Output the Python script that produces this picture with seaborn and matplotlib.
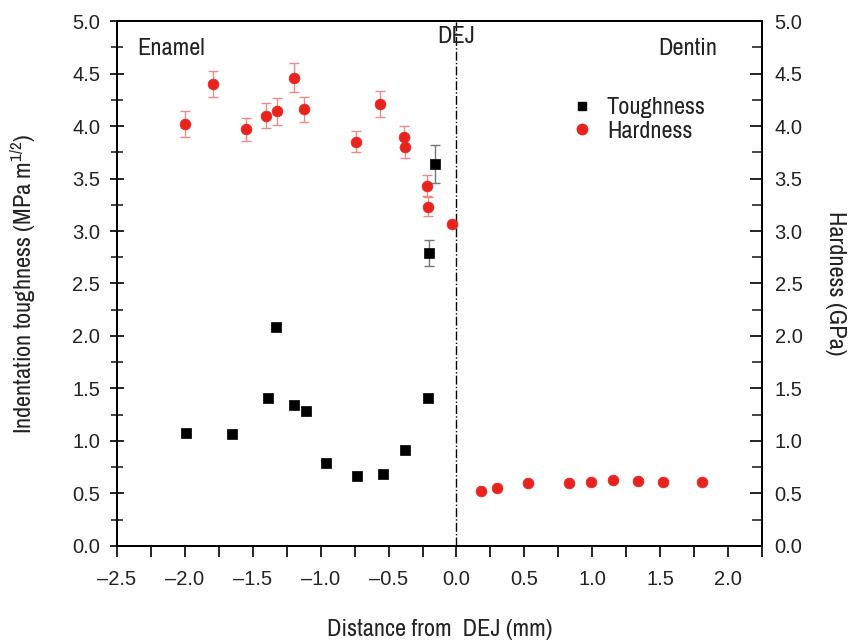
import matplotlib
matplotlib.use("Agg")
import matplotlib.pyplot as plt
import seaborn as sns
import pandas as pd
from matplotlib.ticker import MultipleLocator, FormatStrFormatter, FuncFormatter
from matplotlib.lines import Line2D

# Hardness (GPa) across the dentin-enamel junction
hard_x = [-2.00, -1.79, -1.55, -1.40, -1.32, -1.20, -1.12, -0.74, -0.56,
          -0.39, -0.38, -0.22, -0.21, -0.03,
          0.18, 0.30, 0.53, 0.83, 0.99, 1.15, 1.34, 1.52, 1.81]
hard_y = [4.02, 4.40, 3.97, 4.10, 4.14, 4.46, 4.16, 3.85, 4.21,
          3.90, 3.80, 3.43, 3.23, 3.07,
          0.52, 0.55, 0.60, 0.60, 0.61, 0.63, 0.62, 0.61, 0.61]
hard_err = [0.12, 0.12, 0.11, 0.12, 0.13, 0.14, 0.12, 0.10, 0.12,
            0.10, 0.10, 0.10, 0.09, 0.02,
            0.02, 0.02, 0.02, 0.02, 0.02, 0.02, 0.02, 0.02, 0.02]

# Indentation toughness (MPa m^1/2) in enamel
tough_x = [-1.99, -1.65, -1.39, -1.33, -1.20, -1.11, -0.96, -0.73, -0.54,
           -0.38, -0.21, -0.20, -0.16]
tough_y = [1.08, 1.07, 1.41, 2.09, 1.34, 1.29, 0.79, 0.67, 0.69,
           0.91, 1.41, 2.79, 3.64]
tough_err = [0.02, 0.02, 0.02, 0.02, 0.02, 0.02, 0.02, 0.02, 0.02,
             0.02, 0.02, 0.12, 0.18]

legend_labels = ["Toughness", "Hardness"]

hard = pd.DataFrame({"x": hard_x, "y": hard_y, "err": hard_err})
tough = pd.DataFrame({"x": tough_x, "y": tough_y, "err": tough_err})

sns.set_theme(style="white")
FONT = ["Archivo Narrow", "DejaVu Sans"]
TICK_FONT = ["Liberation Sans", "DejaVu Sans"]
plt.rcParams["font.family"] = FONT
plt.rcParams["mathtext.fontset"] = "custom"
plt.rcParams["mathtext.rm"] = "Archivo Narrow"
plt.rcParams["mathtext.it"] = "Archivo Narrow"

RED = "#e8231d"
INK = "#222222"
FS = 17.5
TFS = 14.5

fig = plt.figure(figsize=(8.52, 6.43), dpi=100)
ax = fig.add_axes([0.1373, 0.1509, 0.7571, 0.8164])

ax.errorbar(hard["x"], hard["y"], yerr=hard["err"], fmt="none",
            ecolor="#f08a86", elinewidth=1.0, capsize=3.5, capthick=1.0, zorder=2)
ax.errorbar(tough["x"], tough["y"], yerr=tough["err"], fmt="none",
            ecolor="#777777", elinewidth=1.0, capsize=3.5, capthick=1.0, zorder=2)

sns.scatterplot(data=hard, x="x", y="y", ax=ax, marker="o", s=60,
                color=RED, edgecolor=RED, linewidth=0.5, zorder=3, legend=False)
sns.scatterplot(data=tough, x="x", y="y", ax=ax, marker="s", s=48,
                color="black", edgecolor="black", linewidth=0.5, zorder=3, legend=False)

# boundary between enamel and dentin
ax.axvline(0, color="black", linestyle="-.", linewidth=1.0, zorder=1)

ax.set_xlim(-2.5, 2.25)
ax.set_ylim(0, 5)
ax.xaxis.set_major_locator(MultipleLocator(0.5))
ax.xaxis.set_minor_locator(MultipleLocator(0.25))
ax.yaxis.set_major_locator(MultipleLocator(0.5))
ax.yaxis.set_minor_locator(MultipleLocator(0.25))
ax.xaxis.set_major_formatter(
    FuncFormatter(lambda v, _: f"{v:.1f}".replace("-", "\u2013")))
ax.yaxis.set_major_formatter(FormatStrFormatter("%.1f"))

for s in ax.spines.values():
    s.set_visible(True)
    s.set_color("black")
    s.set_linewidth(1.3)

ax.tick_params(axis="x", which="both", direction="out", length=8, width=1.2,
               bottom=True, top=False, labelsize=TFS, colors="black",
               labelcolor=INK, pad=9)
ax.tick_params(axis="y", which="major", direction="inout", length=10, width=1.2,
               left=True, right=False, labelsize=TFS, colors="black",
               labelcolor=INK, pad=7)
ax.tick_params(axis="y", which="minor", direction="inout", length=8, width=1.2,
               left=True, right=False)
for lab in ax.get_xticklabels() + ax.get_yticklabels():
    lab.set_family(TICK_FONT)

ax.set_xlabel("Distance from  DEJ (mm)", fontsize=FS, color=INK, labelpad=22)
ax.set_ylabel("Indentation toughness (MPa m$^{1/2}$)", fontsize=FS,
              color=INK, labelpad=25)

ax2 = ax.twinx()
ax2.set_ylim(0, 5)
ax2.yaxis.set_major_locator(MultipleLocator(0.5))
ax2.yaxis.set_minor_locator(MultipleLocator(0.25))
ax2.yaxis.set_major_formatter(FormatStrFormatter("%.1f"))
ax2.tick_params(axis="y", which="major", direction="in", length=9, width=1.2,
                right=True, labelsize=TFS, colors="black", labelcolor=INK, pad=9)
ax2.tick_params(axis="y", which="minor", direction="in", length=7, width=1.2, right=True)
for lab in ax2.get_yticklabels():
    lab.set_family(TICK_FONT)
for s in ax2.spines.values():
    s.set_linewidth(1.3)
    s.set_color("black")
ax2.set_ylabel("Hardness (GPa)", fontsize=FS, color=INK,
               rotation=-90, labelpad=31)

ax.text(0.032, 0.968, "Enamel", transform=ax.transAxes, fontsize=FS,
        ha="left", va="top", color=INK)
ax.text(0.93, 0.968, "Dentin", transform=ax.transAxes, fontsize=FS,
        ha="right", va="top", color=INK)
ax.text(0.0, 4.95, "DEJ", fontsize=FS, ha="center", va="top", color=INK)

handles = [
    Line2D([], [], marker="s", color="black", linestyle="none", markersize=6),
    Line2D([], [], marker="o", color=RED, linestyle="none", markersize=7.5),
]
leg = ax.legend(handles, legend_labels, loc="upper left",
                bbox_to_anchor=(0.684, 0.878), frameon=False, fontsize=FS,
                handlelength=1.0, handletextpad=0.5, labelspacing=0.1, borderpad=0)
for t in leg.get_texts():
    t.set_color(INK)

fig.savefig("out.png", dpi=100, facecolor="white")
